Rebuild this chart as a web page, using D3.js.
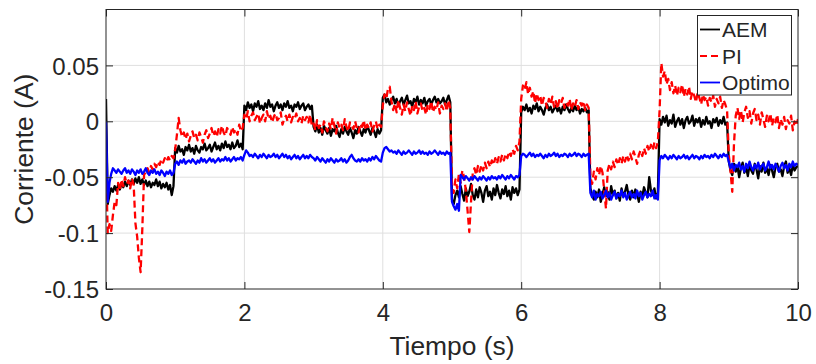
<!DOCTYPE html>
<html>
<head>
<meta charset="utf-8">
<script src="https://cdn.jsdelivr.net/npm/d3@7"></script>
<style>
  html, body { margin: 0; padding: 0; background: #fff; }
  svg { display: block; }
  text { font-family: "Liberation Sans", Arial, Helvetica, sans-serif; fill: #262626; }
</style>
</head>
<body>
<svg id="chart" width="816" height="364"></svg>
<script>
// Measured current (mA), one row per second of the test, 40 samples per row.
const aemRows = [
  [20,-74,-66,-60,-63,-58,-62,-57,-61,-55, -59,-54,-58,-53,-57,-52,-56,-51,-55,-50, -56,-52,-57,-53,-58,-54,-59,-55,-57,-52, -58,-54,-60,-56,-59,-55,-61,-57,-66,-58],
  [-24,-28,-22,-27,-25,-30,-23,-26,-21,-27, -24,-29,-22,-26,-28,-23,-25,-20,-26,-24, -21,-27,-23,-19,-25,-22,-26,-20,-24,-18, -23,-21,-25,-19,-24,-22,-17,-23,-20,-25],
  [14,10,17,12,15,9,16,13,18,11, 14,10,16,12,19,13,15,9,14,17, 12,15,10,16,13,18,12,14,9,15, 13,17,11,14,16,10,13,15,11,14],
  [-5,-9,-3,-10,-6,-12,-4,-8,-11,-6, -13,-7,-9,-4,-10,-14,-7,-11,-5,-9, -12,-6,-10,-15,-8,-11,-5,-9,-13,-7, -10,-4,-8,-12,-6,-9,-14,-7,-11,-8],
  [21,24,17,20,15,19,22,16,20,14, 18,21,15,19,23,16,18,13,20,17, 22,15,19,16,21,14,18,20,15,19, 22,17,20,16,18,21,15,19,23,17],
  [-70,-74,-66,-62,-68,-58,-65,-71,-60,-67, -63,-56,-66,-70,-61,-68,-59,-64,-72,-62, -58,-67,-63,-70,-60,-66,-57,-64,-69,-61, -65,-58,-67,-62,-70,-59,-64,-60,-66,-61],
  [8,13,10,15,9,12,7,14,11,16, 9,13,10,6,12,15,10,13,8,11, 14,9,12,7,13,10,15,11,8,12, 9,14,10,13,7,11,9,12,8,10],
  [-60,-66,-70,-63,-68,-61,-72,-65,-59,-67, -63,-70,-58,-66,-62,-69,-64,-71,-60,-67, -63,-57,-66,-70,-62,-68,-61,-65,-72,-63, -67,-59,-64,-68,-50,-62,-66,-60,-69,-64],
  [2,-3,4,-1,5,-4,1,-2,6,-5, 0,3,-3,2,-6,1,4,-2,0,5, -4,2,-1,3,-5,1,-3,4,-2,0, -6,2,-1,3,-4,1,-2,4,-3,-1],
  [-36,-44,-48,-38,-45,-40,-50,-42,-37,-46, -41,-49,-39,-44,-47,-38,-43,-51,-40,-45, -37,-46,-42,-48,-39,-44,-50,-41,-38,-45, -43,-49,-40,-36,-46,-42,-48,-39,-44,-41, -40]
];

const piRows = [
  [-35,-100,-92,-98,-84,-72,-75,-55,-62,-52, -58,-50,-56,-53,-60,-51,-57,-91,-103,-122, -135,-96,-48,-45,-42,-46,-40,-43,-38,-41, -36,-39,-34,-37,-33,-36,-32,-35,-31,-33],
  [-25,-12,3,-8,-14,-10,-16,-11,-18,-13, -9,-15,-12,-17,-10,-14,-19,-12,-8,-15, -11,-6,-13,-9,-14,-7,-11,-4,-10,-13, -6,-9,-12,-5,-10,-7,-12,-3,-9,-6],
  [6,2,9,0,5,8,1,4,7,-2, 3,6,0,9,2,5,-1,4,7,1, 3,8,-3,2,5,0,6,-1,4,2, 7,0,3,-2,5,1,4,-1,6,-4],
  [-2,-8,1,-6,-3,-10,0,-5,-9,-2, -7,3,-4,-11,-1,-6,-3,-8,2,-5, -9,-1,-4,-7,0,-6,-10,-2,-5,1, -8,-3,-6,-1,-9,-4,0,-7,-3,-5],
  [14,24,20,29,31,18,10,16,8,19, 12,6,15,9,17,11,5,14,10,18, 7,13,16,9,12,6,15,11,18,8, 13,10,17,7,14,11,16,9,19,12],
  [-58,-64,-52,-60,-47,-55,-44,-50,-62,-80, -99,-72,-46,-42,-48,-40,-45,-39,-44,-37, -42,-36,-41,-35,-39,-33,-38,-32,-36,-30, -35,-29,-33,-27,-31,-25,-29,-22,-26,-18],
  [20,32,28,35,24,30,22,27,16,25, 19,23,14,21,18,12,20,15,22,13, 18,11,19,16,21,12,17,14,20,10, 16,13,19,11,17,14,18,10,15,12],
  [-50,-56,-45,-52,-42,-48,-40,-46,-62,-78, -44,-38,-43,-36,-41,-34,-39,-33,-38,-31, -36,-30,-35,-29,-34,-27,-32,-38,-30,-26, -31,-24,-29,-22,-27,-21,-26,-19,-24,-18],
  [10,52,40,45,33,38,28,35,25,32, 23,30,26,33,22,29,24,31,20,27, 23,17,26,21,15,24,19,22,14,21, 17,23,13,20,16,22,12,19,15,10],
  [-30,-45,-63,-20,5,12,2,10,-1,8, 13,3,9,-2,7,11,1,6,-3,8, 2,-5,5,0,7,-4,3,-1,6,-6, 2,-3,4,-7,1,-2,5,-8,0,-4, 2]
];

const optimoRows = [
  [0,-72,-55,-47,-42,-44,-46,-43,-45,-47, -44,-42,-46,-44,-47,-43,-45,-48,-44,-46, -43,-47,-45,-42,-46,-48,-44,-46,-43,-47, -45,-48,-44,-46,-49,-45,-47,-44,-48,-46],
  [-38,-36,-39,-35,-37,-34,-38,-36,-35,-37, -34,-36,-38,-35,-37,-33,-36,-34,-37,-35, -33,-36,-34,-37,-35,-33,-36,-34,-35,-32, -35,-33,-36,-34,-32,-35,-33,-34,-32,-35],
  [-30,-26,-28,-31,-30,-32,-29,-31,-33,-30, -32,-29,-31,-33,-30,-32,-31,-29,-32,-30, -33,-31,-29,-32,-30,-33,-31,-34,-32,-30, -33,-31,-34,-32,-30,-33,-31,-33,-30,-32],
  [-33,-35,-32,-34,-36,-33,-35,-37,-34,-36, -33,-35,-37,-34,-36,-35,-33,-36,-34,-37, -35,-32,-30,-33,-35,-36,-34,-36,-33,-35, -34,-36,-33,-35,-32,-34,-31,-33,-35,-36],
  [-28,-24,-23,-25,-27,-26,-28,-27,-29,-26, -28,-30,-27,-29,-28,-26,-28,-30,-27,-29, -28,-26,-29,-27,-29,-28,-30,-27,-29,-28, -26,-28,-30,-27,-29,-28,-30,-27,-29,-28],
  [-72,-76,-79,-74,-80,-48,-50,-52,-49,-51, -53,-50,-52,-49,-51,-53,-50,-52,-49,-51, -53,-50,-52,-49,-51,-50,-52,-49,-51,-48, -50,-52,-49,-51,-48,-50,-52,-49,-50,-48],
  [-31,-29,-30,-32,-30,-28,-31,-29,-32,-30, -31,-29,-31,-33,-30,-32,-29,-31,-30,-28, -31,-29,-32,-30,-31,-29,-30,-32,-29,-31, -30,-28,-31,-29,-30,-32,-29,-31,-30,-29],
  [-64,-68,-62,-70,-65,-67,-63,-69,-66,-62, -68,-64,-70,-66,-63,-69,-65,-67,-62,-68, -64,-70,-66,-63,-68,-65,-69,-62,-67,-64, -70,-66,-63,-68,-65,-67,-62,-69,-66,-70],
  [-35,-31,-33,-30,-32,-34,-31,-33,-30,-32, -34,-31,-33,-32,-30,-33,-31,-34,-32,-30, -33,-31,-32,-34,-31,-33,-30,-32,-31,-33, -30,-32,-29,-31,-33,-30,-32,-29,-31,-30],
  [-36,-42,-38,-44,-39,-41,-37,-43,-40,-45, -38,-42,-36,-41,-44,-39,-42,-37,-43,-40, -38,-44,-41,-36,-42,-39,-43,-38,-41,-45, -40,-37,-42,-39,-44,-38,-41,-36,-40,-38, -39]
];

const seriesNames = ["AEM", "PI", "Optimo"];
const seriesColors = ["#000000", "#ff0000", "#0000ff"];
const seriesDash = [null, "7,4", null];
const xTicks = [0, 2, 4, 6, 8, 10];
const yTicks = [-0.15, -0.1, -0.05, 0, 0.05];
const yTickLabels = ["-0.15", "-0.1", "-0.05", "0", "0.05"];

// Rows -> (time in s, current in A); the last row also carries the t = 10 s sample.
function toPoints(rows) {
  const pts = [];
  rows.forEach((row, s) => {
    const isLast = s === rows.length - 1;
    const step = 1 / (isLast ? row.length - 1 : row.length);
    row.forEach((v, i) => pts.push([s + i * step, v / 1000]));
  });
  return pts;
}
const series = [aemRows, piRows, optimoRows].map(toPoints);

const svg = d3.select("#chart");
const m = { left: 106, right: 798, top: 9.5, bottom: 289 };

const x = d3.scaleLinear().domain([0, 10]).range([m.left, m.right]);
const y = d3.scaleLinear().domain([-0.15, 0.1]).range([m.bottom, m.top]);

const axisColor = "#262626";
const gridColor = "#dfdfdf";
const tickLen = 7;

// grid
const grid = svg.append("g");
grid.selectAll("line.gx").data(xTicks.slice(1, -1)).join("line")
  .attr("x1", d => x(d)).attr("x2", d => x(d))
  .attr("y1", m.top).attr("y2", m.bottom)
  .attr("stroke", gridColor).attr("stroke-width", 1);
grid.selectAll("line.gy").data(yTicks.slice(1)).join("line")
  .attr("y1", d => y(d)).attr("y2", d => y(d))
  .attr("x1", m.left).attr("x2", m.right)
  .attr("stroke", gridColor).attr("stroke-width", 1);

// data lines
svg.append("clipPath").attr("id", "plotClip").append("rect")
  .attr("x", m.left).attr("y", m.top)
  .attr("width", m.right - m.left).attr("height", m.bottom - m.top);

const line = d3.line().x(d => x(d[0])).y(d => y(d[1]));
const plot = svg.append("g").attr("clip-path", "url(#plotClip)");
series.forEach((pts, i) => {
  plot.append("path").datum(pts)
    .attr("d", line)
    .attr("fill", "none")
    .attr("stroke", seriesColors[i])
    .attr("stroke-width", 2.3)
    .attr("stroke-linejoin", "round")
    .attr("stroke-dasharray", seriesDash[i]);
});

// axes box with inward ticks on all four sides
const ax = svg.append("g").attr("stroke", axisColor).attr("stroke-width", 1).attr("fill", "none");
const bottomAxis = d3.axisBottom(x).tickValues(xTicks).tickSizeInner(-tickLen).tickSizeOuter(0).tickFormat(d3.format("d"));
const topAxis = d3.axisTop(x).tickValues(xTicks).tickSizeInner(-tickLen).tickSizeOuter(0).tickFormat("");
const leftAxis = d3.axisLeft(y).tickValues(yTicks).tickSizeInner(-tickLen).tickSizeOuter(0).tickFormat((d, i) => yTickLabels[i]);
const rightAxis = d3.axisRight(y).tickValues(yTicks).tickSizeInner(-tickLen).tickSizeOuter(0).tickFormat("");

function styleAxis(g) {
  g.select(".domain").remove();
  g.selectAll(".tick line").attr("stroke", axisColor);
  g.selectAll(".tick text").attr("fill", axisColor).attr("stroke", "none")
    .style("font-family", '"Liberation Sans", Arial, Helvetica, sans-serif')
    .style("font-size", "24px");
}

svg.append("g").attr("transform", `translate(0,${m.bottom})`).call(bottomAxis).call(styleAxis)
  .call(g => g.selectAll(".tick text").attr("y", 0).attr("dy", null).attr("transform", "translate(0,32)"));
svg.append("g").attr("transform", `translate(0,${m.top})`).call(topAxis).call(styleAxis);
svg.append("g").attr("transform", `translate(${m.left},0)`).call(leftAxis).call(styleAxis)
  .call(g => g.selectAll(".tick text").attr("x", -7).attr("dy", "0.36em"));
svg.append("g").attr("transform", `translate(${m.right},0)`).call(rightAxis).call(styleAxis);

ax.append("rect")
  .attr("x", m.left).attr("y", m.top)
  .attr("width", m.right - m.left).attr("height", m.bottom - m.top);

// axis labels
svg.append("text")
  .attr("x", (m.left + m.right) / 2).attr("y", 355)
  .attr("text-anchor", "middle").style("font-size", "26.4px")
  .text("Tiempo (s)");
svg.append("text")
  .attr("transform", `translate(33,${(m.top + m.bottom) / 2}) rotate(-90)`)
  .attr("text-anchor", "middle").style("font-size", "26.4px")
  .text("Corriente (A)");

// legend
const lg = svg.append("g");
lg.append("rect")
  .attr("x", 697.5).attr("y", 15.5).attr("width", 94).attr("height", 79.5)
  .attr("fill", "#fff").attr("stroke", axisColor).attr("stroke-width", 1);
seriesNames.forEach((name, i) => {
  const cy = 29.5 + i * 26.5;
  lg.append("line")
    .attr("x1", 700).attr("x2", 720).attr("y1", cy).attr("y2", cy)
    .attr("stroke", seriesColors[i]).attr("stroke-width", 1.8)
    .attr("stroke-dasharray", seriesDash[i]);
  lg.append("text")
    .attr("x", 722).attr("y", cy + 7.6)
    .style("font-size", "21px")
    .text(name);
});
</script>
</body>
</html>
